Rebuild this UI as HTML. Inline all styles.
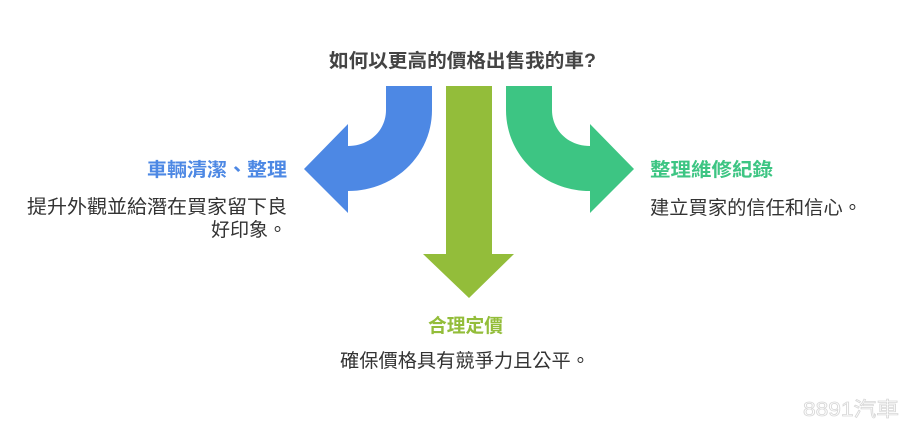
<!DOCTYPE html>
<html><head><meta charset="utf-8"><style>
html,body{margin:0;padding:0;background:#fff;}
svg{display:block;}
text{font-family:"Liberation Sans","Noto Sans CJK TC",sans-serif;}
</style></head><body>
<svg width="902" height="422" viewBox="0 0 902 422" xmlns="http://www.w3.org/2000/svg">
<path d="M386,86 H432 V110 C432,155 395,191 348,191 V213 L304,169 L348,124 V146 C370,146 386,130 386,110 Z" fill="#4d88e4"/>
<path d="M552,86 H506 V110 C506,155 543,191 590,191 V213 L634,169 L590,124 V146 C568,146 552,130 552,110 Z" fill="#3dc583"/>
<path d="M446,86 H492 V254 H514 L469,298 L423,254 H446 Z" fill="#93bd3a"/>
<text x="329" y="67" font-size="19" font-weight="bold" fill="#444" textLength="267" lengthAdjust="spacingAndGlyphs">如何以更高的價格出售我的車?</text>
<text x="147" y="176" font-size="19" font-weight="bold" fill="#4d88e4" textLength="140" lengthAdjust="spacingAndGlyphs">車輛清潔、整理</text>
<text x="27" y="213" font-size="19" fill="#333" textLength="260" lengthAdjust="spacingAndGlyphs">提升外觀並給潛在買家留下良</text>
<text x="287" y="236" font-size="19" fill="#333" text-anchor="end">好印象。</text>
<text x="650" y="176" font-size="19" font-weight="bold" fill="#3dc583" textLength="123" lengthAdjust="spacingAndGlyphs">整理維修紀錄</text>
<text x="650" y="214" font-size="19" fill="#333" textLength="212" lengthAdjust="spacingAndGlyphs">建立買家的信任和信心。</text>
<text x="428" y="332" font-size="19" font-weight="bold" fill="#93bd3a" textLength="75" lengthAdjust="spacingAndGlyphs">合理定價</text>
<text x="340" y="367" font-size="19" fill="#333" textLength="250" lengthAdjust="spacingAndGlyphs">確保價格具有競爭力且公平。</text>
<text x="803" y="416" font-size="20" fill="none" stroke="#d8d8d8" stroke-width="0.8" textLength="96" lengthAdjust="spacingAndGlyphs">8891汽車</text>
</svg>
</body></html>
